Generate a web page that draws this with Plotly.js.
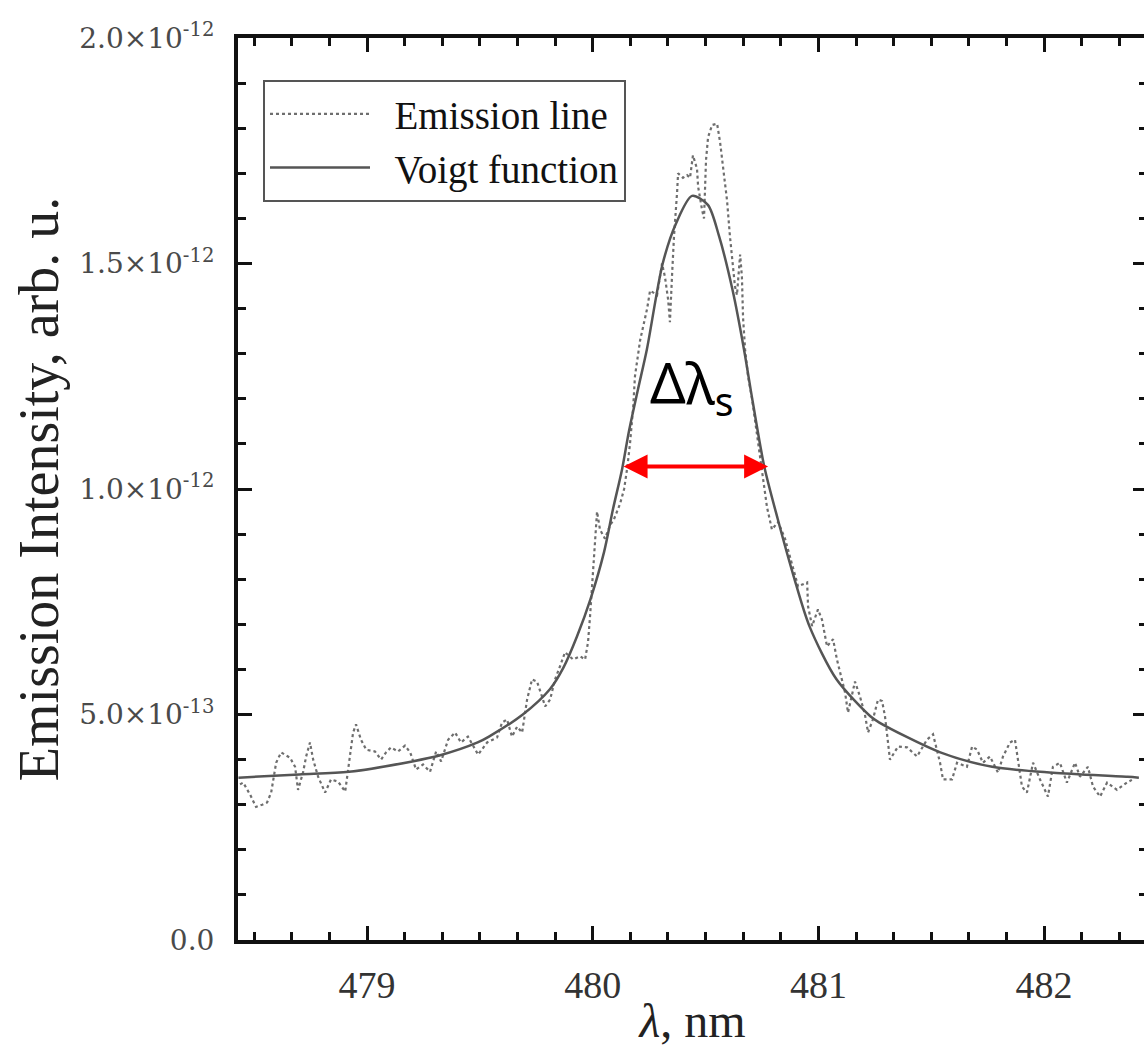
<!DOCTYPE html>
<html>
<head>
<meta charset="utf-8">
<script src="https://cdn.plot.ly/plotly-3.0.1.min.js"></script>
<style>
html,body{margin:0;padding:0;background:#fff;overflow:hidden;}
#chart{width:1160px;height:1047px;}
</style>
</head>
<body>
<div id="chart"></div>
<script>
// Values are in units of 1e-13 (arb. u.)
const UNIT = 1e-13;

// Measured emission line (dotted)
const emissionWavelength = [
478.437,478.451,478.482,478.508,478.535,478.557,478.575,478.597,478.619,478.659,
478.681,478.694,478.716,478.730,478.747,478.761,478.783,478.814,478.840,478.872,
478.903,478.925,478.938,478.951,478.973,478.996,479.035,479.062,479.084,479.106,
479.137,479.168,479.191,479.217,479.248,479.279,479.306,479.328,479.359,479.390,
479.416,479.447,479.492,479.532,479.576,479.598,479.620,479.642,479.665,479.687,
479.709,479.731,479.753,479.775,479.789,479.811,479.833,479.855,479.877,479.913,
479.944,479.966,479.979,479.988,479.997,480.006,480.019,480.032,480.054,480.077,
480.094,480.121,480.139,480.152,480.165,480.179,480.187,480.210,480.241,480.254,
480.285,480.307,480.320,480.334,480.342,480.351,480.360,480.374,480.378,480.400,
480.418,480.431,480.444,480.462,480.467,480.484,480.493,480.502,480.511,480.529,
480.551,480.564,480.577,480.595,480.608,480.622,480.630,480.639,480.653,480.661,
480.666,480.675,480.688,480.706,480.728,480.755,480.772,480.794,480.821,480.852,
480.883,480.910,480.950,480.954,480.972,480.998,481.016,481.038,481.065,481.082,
481.118,481.131,481.162,481.184,481.206,481.220,481.242,481.264,481.282,481.295,
481.317,481.353,481.393,481.437,481.481,481.508,481.539,481.552,481.592,481.614,
481.658,481.681,481.703,481.729,481.760,481.796,481.818,481.849,481.871,481.884,
481.902,481.924,481.951,481.982,482.017,482.039,482.070,482.101,482.137,482.159,
482.194,482.217,482.248,482.279,482.323,482.367,482.389
];
const emissionIntensity = [
3.45,3.49,3.22,2.95,3.00,3.05,3.27,3.93,4.16,4.04,
3.84,3.33,3.71,4.07,4.38,4.00,3.62,3.27,3.56,3.51,
3.29,4.07,4.60,4.78,4.44,4.22,4.18,4.00,4.16,4.27,
4.18,4.31,4.16,3.78,3.89,3.73,4.18,3.96,4.44,4.60,
4.38,4.51,4.11,4.38,4.49,4.82,4.89,4.51,4.73,4.60,
5.33,5.78,5.73,5.40,5.18,5.33,5.78,6.07,6.38,6.22,
6.29,6.22,6.60,7.18,7.90,8.60,9.50,9.10,8.90,9.20,
9.33,9.67,10.00,10.44,11.00,11.80,12.50,13.30,14.00,14.40,
14.30,15.00,14.70,14.20,13.70,14.70,15.60,16.60,17.00,16.90,
16.96,16.90,17.40,17.10,16.70,16.20,16.00,17.30,17.80,18.07,
18.10,17.70,17.10,16.40,15.60,14.96,14.50,14.30,15.20,14.70,
13.80,13.10,12.50,12.00,11.20,10.20,9.60,9.10,9.27,8.90,
8.30,7.84,7.93,7.40,6.96,7.33,7.10,6.51,6.67,6.22,
5.49,5.04,5.73,5.40,5.00,4.60,4.90,5.33,5.30,4.96,
4.00,4.29,4.27,4.07,4.44,4.56,3.93,3.56,3.56,3.93,
3.84,4.29,4.22,3.93,4.07,3.71,4.07,4.38,4.44,4.00,
3.40,3.27,3.93,3.56,3.18,3.84,3.93,3.49,3.93,3.62,
3.84,3.40,3.18,3.49,3.33,3.49,3.55
];

// Voigt fit (solid)
const voigtWavelength = [
478.43,478.70,478.92,479.20,479.32,479.49,479.54,479.69,479.81,479.87,
479.93,479.99,480.05,480.09,480.13,480.16,480.20,480.24,480.31,480.37,
480.44,480.51,480.56,480.62,480.67,480.71,480.76,480.82,480.89,480.96,
481.08,481.23,481.27,481.54,481.77,482.04,482.37,482.42
];
const voigtIntensity = [
3.60,3.67,3.73,3.96,4.09,4.38,4.51,5.00,5.56,6.04,
6.73,7.56,8.60,9.56,10.44,11.27,12.20,13.10,15.00,15.90,
16.50,16.30,15.60,14.40,13.10,11.90,10.50,9.33,8.07,6.96,
5.78,4.96,4.82,4.16,3.84,3.71,3.62,3.60
];

// Axis ticks
const yTickValues = [0, 5, 10, 15, 20];
const yTickLabels = ["0.0", "5.0×10<sup>-13</sup>", "1.0×10<sup>-12</sup>", "1.5×10<sup>-12</sup>", "2.0×10<sup>-12</sup>"];
const xTickValues = [479, 480, 481, 482];
const xTickLabels = ["479", "480", "481", "482"];

// Legend labels
const seriesNames = ["\u00a0\u00a0Emission line", "\u00a0\u00a0Voigt function"];

// FWHM marker
const fwhmLeft = 480.130, fwhmRight = 480.777, halfMax = 10.5;
const fwhmLabelX = 480.44, fwhmLabelY = 12.3;

const serif = "'Liberation Serif', 'Times New Roman', serif";

const traces = [
  {
    x: emissionWavelength, y: emissionIntensity.map(v => v * UNIT),
    type: "scatter", mode: "lines", name: seriesNames[0],
    line: {color: "#6e6e6e", width: 2.2, dash: "dot"}
  },
  {
    x: voigtWavelength, y: voigtIntensity.map(v => v * UNIT),
    type: "scatter", mode: "lines", name: seriesNames[1],
    line: {color: "#555555", width: 2.5, shape: "spline", smoothing: 0.8}
  }
];

const layout = {
  width: 1160, height: 1047,
  margin: {l: 238, r: 13, t: 38, b: 107},
  paper_bgcolor: "#fff", plot_bgcolor: "#fff",
  showlegend: true,
  legend: {
    x: 0.0275, y: 0.9534, xanchor: "left", yanchor: "top",
    bordercolor: "#555", borderwidth: 2, bgcolor: "#fff",
    font: {family: serif, size: 39, color: "#111"},
    itemwidth: 100, tracegroupgap: 0
  },
  xaxis: {
    range: [478.428, 482.456],
    showgrid: false, zeroline: false,
    showline: true, linecolor: "#111", linewidth: 4, mirror: "ticks",
    ticks: "inside", ticklen: 14, tickwidth: 3, tickcolor: "#111",
    tickvals: xTickValues, ticktext: xTickLabels,
    tickfont: {family: serif, size: 38, color: "#333"},
    ticklabelstandoff: 8,
    minor: {dtick: 1/6, tick0: 479, ticks: "inside", ticklen: 8, tickwidth: 3, tickcolor: "#111", showgrid: false},
    title: {text: "<i>λ</i>, nm", font: {family: serif, size: 48, color: "#222"}, standoff: 2}
  },
  yaxis: {
    range: [0, 2.0e-12],
    showgrid: false, zeroline: false,
    showline: true, linecolor: "#111", linewidth: 4, mirror: "ticks",
    ticks: "inside", ticklen: 14, tickwidth: 3, tickcolor: "#111",
    tickvals: yTickValues.map(v => v * UNIT), ticktext: yTickLabels,
    tickfont: {family: "'DejaVu Serif', serif", size: 28, color: "#4a4a4a"},
    ticklabelstandoff: 14,
    minor: {dtick: 1e-13, ticks: "inside", ticklen: 8, tickwidth: 3, tickcolor: "#111", showgrid: false},
    title: {text: "Emission Intensity, arb. u.", font: {family: serif, size: 56, color: "#222"}, standoff: 4}
  },
  annotations: [
    {
      x: fwhmRight, y: halfMax * UNIT, ax: fwhmLeft, ay: halfMax * UNIT,
      xref: "x", yref: "y", axref: "x", ayref: "y",
      text: "", showarrow: true, arrowside: "end+start",
      arrowhead: 2, startarrowhead: 2, arrowsize: 1.2, startarrowsize: 1.2,
      arrowwidth: 4, arrowcolor: "#ff0000"
    },
    {
      x: fwhmLabelX, y: fwhmLabelY * UNIT, xref: "x", yref: "y",
      text: "Δλ<sub>s</sub>", showarrow: false,
      font: {family: "'Noto Sans', 'Open Sans', sans-serif", size: 56, color: "#000"}
    }
  ]
};

Plotly.newPlot("chart", traces, layout, {displayModeBar: false, staticPlot: true});
</script>
</body>
</html>
